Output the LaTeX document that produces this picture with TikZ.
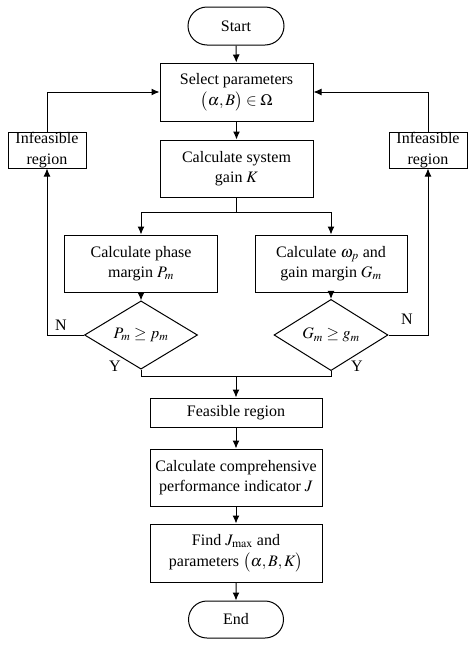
\documentclass[tikz,border=0pt]{standalone}
\usepackage{mathptmx}
\usepackage[no-math]{fontspec}
\setmainfont{Liberation Serif}
\usetikzlibrary{shapes.geometric,shapes.misc,arrows.meta}
\begin{document}
\begin{tikzpicture}[x=1pt,y=-1pt,
  font=\fontsize{16}{20.5}\selectfont,
  box/.style={draw,line width=1pt,align=center,inner sep=0pt},
  term/.style={draw,line width=1pt,rounded rectangle,inner sep=0pt},
  dec/.style={draw,line width=1pt,diamond,inner sep=0pt},
  arr/.style={line width=1pt,-{Latex[length=8pt,width=7pt]}},
  ln/.style={line width=1pt}]
\useasboundingbox (0,0) rectangle (474,651);
\node[term,minimum width=96pt,minimum height=38pt] (start) at (236,26) {Start};
\node[box,minimum width=153pt,minimum height=58pt] (sel) at (236.5,92) {Select parameters\\[1pt]$\bigl(\alpha, B\bigr)\in\Omega$};
\node[box,minimum width=153pt,minimum height=57pt] (calK) at (236.5,168.5) {Calculate system\\gain $K$};
\node[box,minimum width=153pt,minimum height=57pt] (pm) at (141,263.5) {Calculate phase\\margin $P_m$};
\node[box,minimum width=152pt,minimum height=57pt] (gm) at (331,263.5) {Calculate $\omega_p$ and\\gain margin $G_m$};
\node[dec,minimum width=113pt,minimum height=46pt] (pmd) at (141,335) {$P_m\ge p_m$};
\node[dec,minimum width=114pt,minimum height=46pt] (gmd) at (331,335) {$G_m\ge g_m$};
\node[box,minimum width=78pt,minimum height=36pt] (infL) at (47,150) {Infeasible\\region};
\node[box,minimum width=78pt,minimum height=36pt] (infR) at (428,150) {Infeasible\\region};
\node[box,minimum width=172pt,minimum height=29pt] (feas) at (236,412.5) {Feasible region};
\node[box,minimum width=172pt,minimum height=57pt] (calJ) at (236,477.5) {Calculate comprehensive\\performance indicator $J$};
\node[box,minimum width=172pt,minimum height=58pt] (find) at (236,553) {Find $J_{\max}$ and\\[1pt]parameters $\bigl(\alpha, B, K\bigr)$};
\node[term,minimum width=95pt,minimum height=37pt] (end) at (236,619.5) {End};
\node (nL) at (61,325) {N};
\node (nR) at (407,319) {N};
\node (yL) at (115,366) {Y};
\node (yR) at (357,366) {Y};
\coordinate (split) at (calK.south |- 0,212);
\coordinate (merge) at (feas.north |- 0,376);
\draw[arr] (start) -- (sel);
\draw[arr] (sel) -- (calK);
\draw[ln] (calK.south) -- (split);
\draw[arr] (split) -| (pm.north);
\draw[arr] (split) -| (gm.north);
\draw[arr] (pm) -- (pmd);
\draw[arr] (gm) -- (gmd);
\draw[arr] (pmd.west) -| (infL.south);
\draw[arr] (infL.north) |- (sel.west);
\draw[arr] (gmd.east) -| (infR.south);
\draw[arr] (infR.north) |- (sel.east);
\draw[ln] (pmd.south) |- (merge);
\draw[ln] (gmd.south) |- (merge);
\draw[arr] (merge) -- (feas.north);
\draw[arr] (feas) -- (calJ);
\draw[arr] (calJ) -- (find);
\draw[arr] (find) -- (end);
\end{tikzpicture}
\end{document}
